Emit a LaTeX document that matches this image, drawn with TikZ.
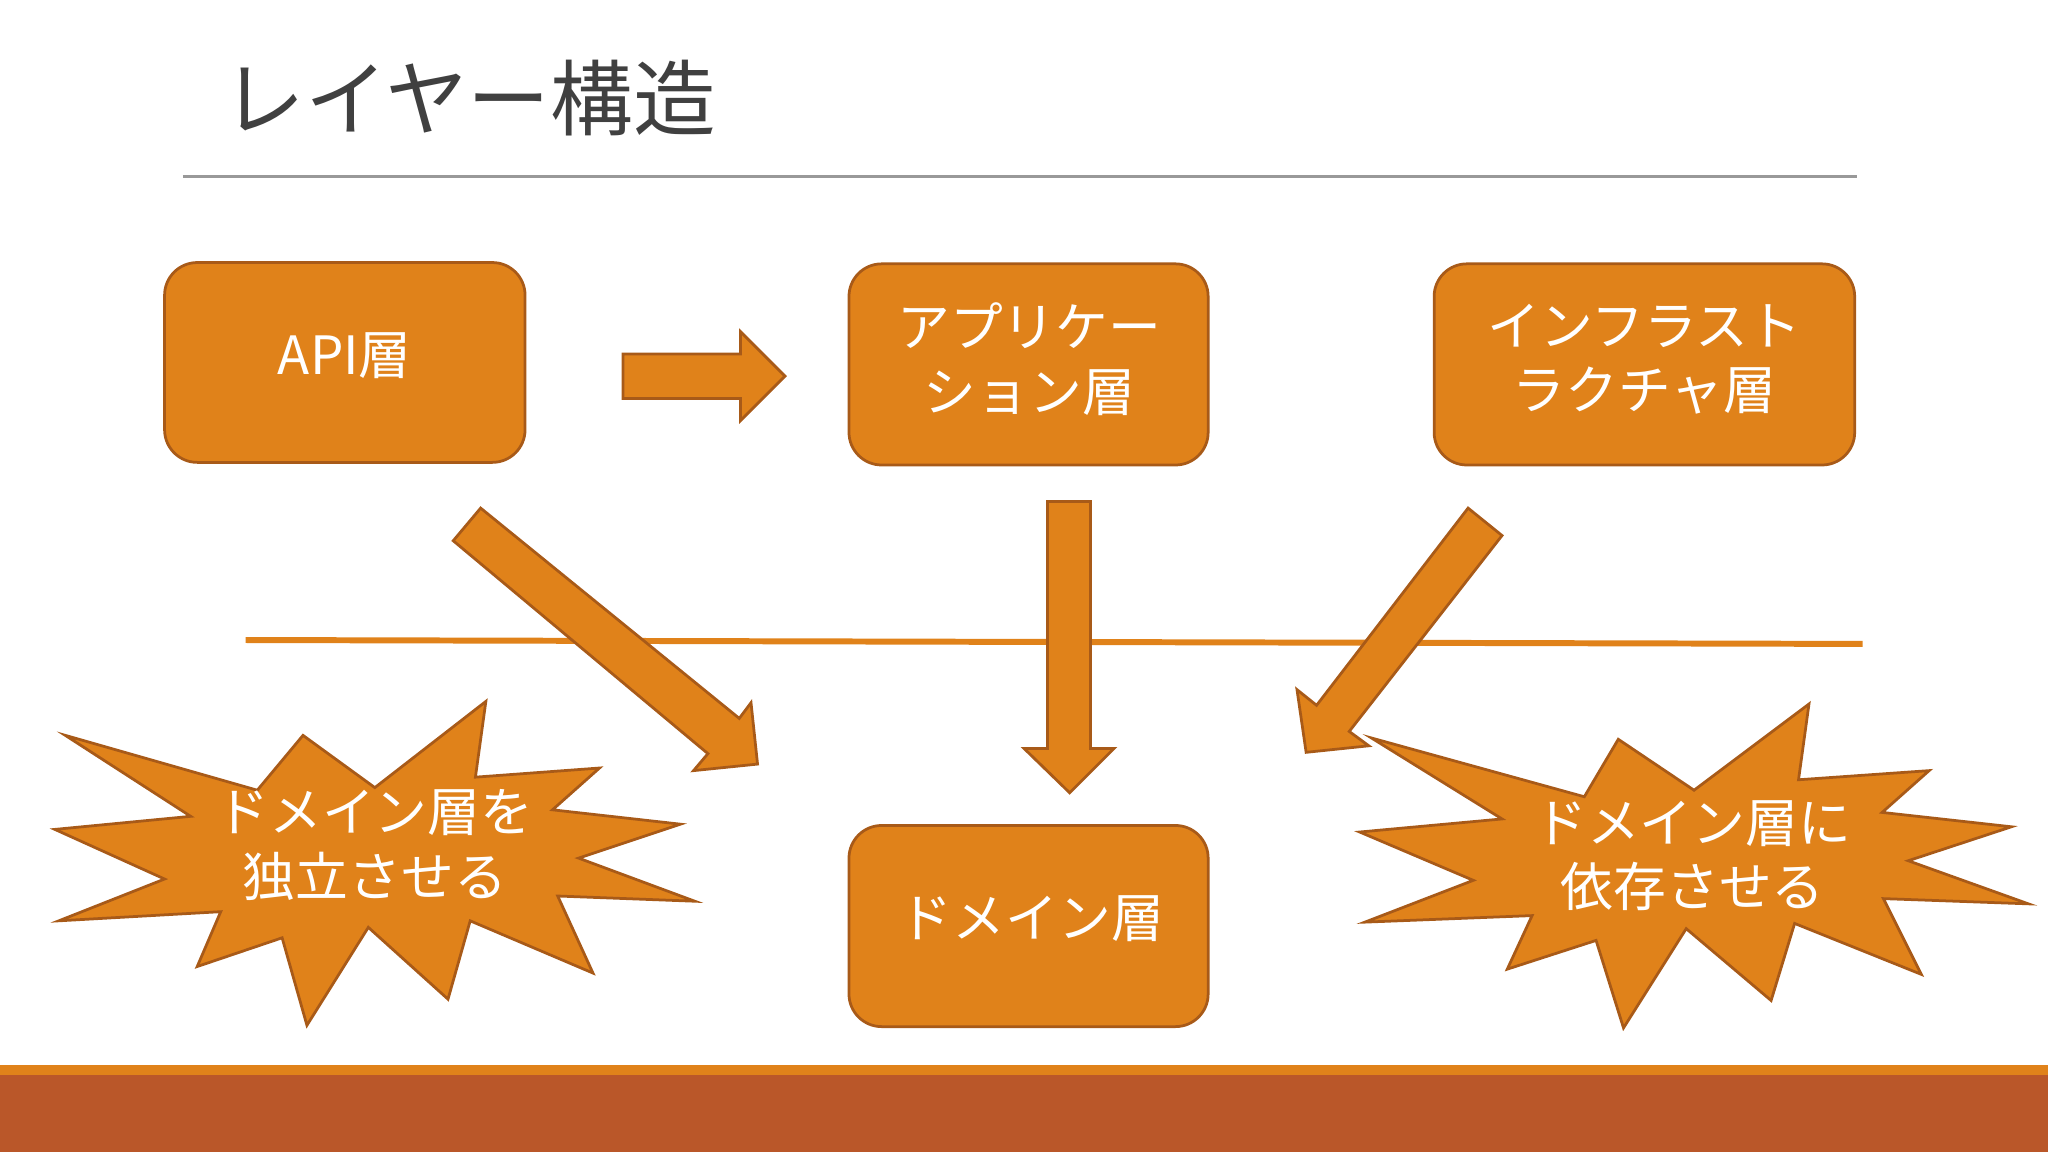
\documentclass[tikz,border=0pt]{standalone}
\usepackage{fontspec}
\setmainfont{Noto Sans CJK JP}
\begin{document}
\begin{tikzpicture}[x=0.1mm,y=-0.1mm]
\definecolor{org}{HTML}{E0821A}
\definecolor{edge}{HTML}{A85A18}
\definecolor{brick}{HTML}{BA5729}
\tikzset{box/.style={draw=edge,line width=0.6pt,fill=org,rounded corners=2.5mm},
 blk/.style={draw=edge,line width=0.6pt,fill=org},
 lbl/.style={text=white,font=\fontsize{11.5}{14}\selectfont,align=center}}
\useasboundingbox (0,0) rectangle (1568,882);
\node[anchor=west,text=black!75,font=\fontsize{18}{20}\selectfont] (title) at (158,75) {レイヤー構造};
\draw[black!40,line width=0.6pt] (140,135) -- (1422,135);
\draw[org,line width=1.3pt] (188,490) -- (1426,493);
\draw[box] (126,201) rectangle (402,354);
\node[lbl] (api) at (264,272) {API層};
\draw[box] (650,202) rectangle (925,356);
\node[lbl] (app) at (788,275) {アプリケー\\ション層};
\draw[box] (1098,202) rectangle (1420,356);
\node[lbl] (infra) at (1259,275) {インフラスト\\ラクチャ層};
\draw[box] (650,632) rectangle (925,786);
\node[lbl] (dom) at (790,703) {ドメイン層};
\draw[blk] (477,271) -- (567,271) -- (567,254) -- (601,288) -- (567,322) -- (567,305) -- (477,305) -- cycle;
\draw[blk] (802,384) -- (835,384) -- (835,573) -- (853,573) -- (819,607) -- (784,573) -- (802,573) -- cycle;
\draw[blk] (347,414) -- (368,389) -- (566,550) -- (575,538) -- (580,585) -- (531,590) -- (542,577) -- cycle;
\draw[blk] (1124,389) -- (1150,410) -- (1033,560) -- (1048,571) -- (1000,576) -- (993,528) -- (1008,540) -- cycle;
\draw[blk] (50,563)--(197,605)--(232,563)--(287,603)--(372,537)--(364,595)--(459,588)--(423,620)--(521,631)--(443,657)--(532,690)--(427,686)--(454,745)--(360,705)--(343,765)--(282,710)--(235,785)--(216,718)--(151,740)--(169,698)--(45,705)--(126,673)--(42,635)--(146,625)--cycle;
\node[lbl] (s1) at (287,647) {ドメイン層を\\独立させる};
\draw[blk] (1050,565)--(1213,610)--(1239,566)--(1297,605)--(1385,539)--(1377,597)--(1477,590)--(1441,622)--(1540,633)--(1461,659)--(1553,692)--(1442,688)--(1471,746)--(1374,707)--(1356,766)--(1291,711)--(1243,787)--(1222,720)--(1154,742)--(1173,701)--(1045,706)--(1128,674)--(1041,637)--(1150,627)--cycle;
\node[lbl] (s2) at (1296,655) {ドメイン層に\\依存させる};
\fill[org] (0,815) rectangle (1568,823);
\fill[brick] (0,823) rectangle (1568,882);
\end{tikzpicture}
\end{document}
